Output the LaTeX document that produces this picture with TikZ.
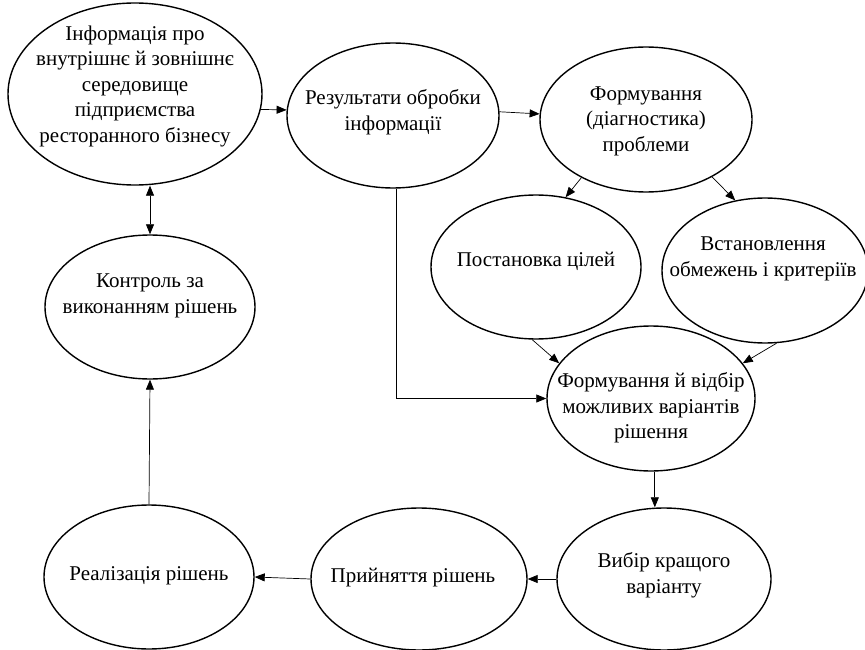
\documentclass[tikz,border=0pt]{standalone}
\usepackage{fontspec}
\setmainfont{Liberation Serif}
\usetikzlibrary{shapes.geometric,arrows.meta,calc}
\begin{document}
\begin{tikzpicture}[x=1pt,y=-1pt,
  ell/.style={ellipse,draw,line width=1.4pt,inner sep=0pt},
  lbl/.style={align=center,font=\fontsize{21}{25.5}\selectfont,inner sep=0pt},
  arr/.style={line width=0.7pt,-{Triangle[length=10pt,width=8pt]}},
  dbl/.style={line width=0.7pt,{Triangle[length=10pt,width=8pt]}-{Triangle[length=10pt,width=8pt]}}]
\useasboundingbox (0,0) rectangle (865,650);
% ellipses
\node[ell,minimum width=254pt,minimum height=182pt] (e1) at (135,94) {};
\node[ell,minimum width=212pt,minimum height=145pt] (e2) at (393,115.5) {};
\node[ell,minimum width=212pt,minimum height=145pt] (e3) at (646,119.5) {};
\node[ell,minimum width=210pt,minimum height=144pt] (e4) at (536,267) {};
\node[ell,minimum width=206pt,minimum height=145pt] (e5) at (765,270.5) {};
\node[ell,minimum width=208pt,minimum height=145pt] (e6) at (651,398.5) {};
\node[ell,minimum width=214pt,minimum height=142pt] (e7) at (664,579) {};
\node[ell,minimum width=216pt,minimum height=142pt] (e8) at (419,579) {};
\node[ell,minimum width=210pt,minimum height=144pt] (e9) at (149,577) {};
\node[ell,minimum width=210pt,minimum height=144pt] (e10) at (150,307) {};
% texts
\node[lbl] (t1) at (135,86) {Інформація про\\внутрішнє й зовнішнє\\середовище\\підприємства\\ресторанного бізнесу};
\node[lbl] (t2) at (393,112) {Результати обробки\\інформації};
\node[lbl] (t3) at (646,121) {Формування\\(діагностика)\\проблеми};
\node[lbl] (t4) at (536,261) {Постановка цілей};
\node[lbl] (t5) at (763,259) {Встановлення\\обмежень і критеріїв};
\node[lbl] (t6) at (651,408) {Формування й відбір\\можливих варіантів\\рішення};
\node[lbl] (t7) at (664,575) {Вибір кращого\\варіанту};
\node[lbl] (t8) at (413,578) {Прийняття рішень};
\node[lbl] (t9) at (149,576) {Реалізація рішень};
\node[lbl] (t10) at (150,296) {Контроль за\\виконанням рішень};
% connectors
\draw[arr] (e1.-7) -- (e2.177);
\draw[arr] (e2.2) -- (e3.177);
\draw[arr] (e3.-138) -- (e4.67);
\draw[arr] (e3.-41) -- (e5.113);
\draw[arr] (e4.-93) -- (e6.159);
\draw[arr] (e5.-81) -- (e6.21);
\draw[arr] (e2.-87) |- (e6.west);
\draw[arr] (e6.-87) -- (e6.-87 |- e7.north);
\draw[arr] (e7.west) -- (e8.east);
\draw[arr] (e8.west) -- (e9.east);
\draw[arr] (e9.north) -- (e10.south);
\draw[dbl] (e10.north |- e1.south) -- (e10.north);
\end{tikzpicture}
\end{document}
